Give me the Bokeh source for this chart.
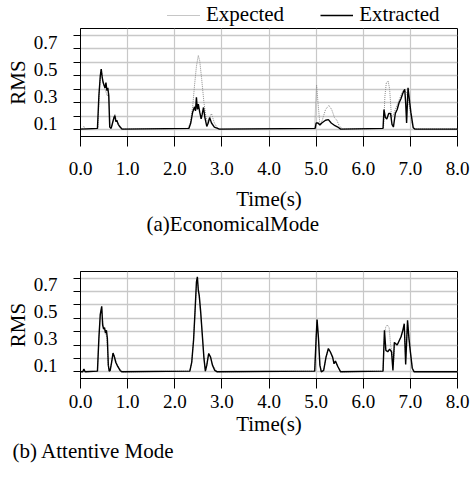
from bokeh.plotting import figure
from bokeh.models import (Range1d, FixedTicker, Title, Legend, LegendItem,
                          PrintfTickFormatter)
from bokeh.layouts import column
from bokeh.embed import file_html
from bokeh.resources import INLINE

FONT = "Liberation Serif"

# ---------------- data ----------------
x_ticks = [0, 1, 2, 3, 4, 5, 6, 7, 8]
y_label_ticks = [0.1, 0.3, 0.5, 0.7]
y_minor_ticks = [0.05, 0.15, 0.25, 0.35, 0.45, 0.55, 0.65, 0.75]

# (a) Economical mode
eco_exp_t = [0.0, 0.05, 0.07, 0.10, 0.37, 0.40, 0.44, 0.47, 0.50, 0.54, 0.57, 0.60, 0.63,
             0.66, 0.70, 0.73, 0.76, 0.80, 0.88, 2.28, 2.33, 2.38, 2.42, 2.46, 2.50, 2.53,
             2.57, 2.62, 2.66, 2.70, 2.74, 2.78, 2.84, 2.92, 4.97, 4.99, 5.01, 5.04, 5.08,
             5.13, 5.20, 5.27, 5.33, 5.39, 5.44, 5.49, 5.56, 6.43, 6.46, 6.49, 6.53, 6.56,
             6.60, 6.64, 6.68, 6.76, 6.84, 6.92, 6.98, 7.03, 7.07, 8.0]
eco_exp_v = [0.055, 0.06, 0.075, 0.055, 0.06, 0.35, 0.50, 0.42, 0.38, 0.33, 0.30, 0.32, 0.08,
             0.07, 0.13, 0.165, 0.12, 0.10, 0.055, 0.06, 0.10, 0.22, 0.38, 0.52, 0.60, 0.56,
             0.43, 0.25, 0.15, 0.10, 0.14, 0.17, 0.10, 0.055, 0.06, 0.25, 0.38, 0.25, 0.09,
             0.12, 0.20, 0.23, 0.20, 0.14, 0.12, 0.08, 0.055, 0.06, 0.30, 0.40, 0.41, 0.35,
             0.14, 0.16, 0.20, 0.27, 0.34, 0.33, 0.22, 0.10, 0.055, 0.055]

eco_ext_t = [0.0, 0.36, 0.39, 0.42, 0.44, 0.46, 0.48, 0.50, 0.52, 0.54, 0.56, 0.58, 0.60,
             0.62, 0.65, 0.68, 0.71, 0.73, 0.75, 0.77, 0.80, 0.84, 0.88, 2.30, 2.34, 2.38,
             2.42, 2.44, 2.46, 2.48, 2.50, 2.53, 2.56, 2.58, 2.61, 2.64, 2.68, 2.71, 2.74,
             2.78, 2.84, 2.95, 4.98, 5.00, 5.04, 5.08, 5.12, 5.20, 5.26, 5.32, 5.40, 5.46,
             5.52, 6.42, 6.44, 6.47, 6.50, 6.54, 6.58, 6.61, 6.64, 6.68, 6.72, 6.76, 6.80,
             6.84, 6.88, 6.90, 6.92, 6.95, 6.97, 7.01, 7.06, 7.10, 8.0]
eco_ext_v = [0.055, 0.06, 0.30, 0.45, 0.50, 0.44, 0.40, 0.38, 0.36, 0.40, 0.34, 0.36, 0.30,
             0.07, 0.06, 0.10, 0.14, 0.155, 0.11, 0.12, 0.09, 0.07, 0.055, 0.06, 0.10, 0.18,
             0.22, 0.19, 0.29, 0.20, 0.24, 0.18, 0.13, 0.16, 0.215, 0.14, 0.075, 0.10, 0.14,
             0.10, 0.07, 0.055, 0.06, 0.10, 0.10, 0.085, 0.10, 0.12, 0.125, 0.10, 0.08, 0.07,
             0.055, 0.06, 0.20, 0.14, 0.13, 0.17, 0.17, 0.09, 0.07, 0.17, 0.20, 0.25, 0.28,
             0.32, 0.35, 0.25, 0.10, 0.36, 0.30, 0.18, 0.065, 0.055, 0.055]

# (b) Attentive mode
att_exp_t = [0.0, 0.05, 0.07, 0.10, 0.36, 0.39, 0.42, 0.45, 0.48, 0.52, 0.56, 0.59, 0.61,
             0.63, 0.66, 0.69, 0.72, 0.76, 0.80, 0.88, 2.32, 2.36, 2.40, 2.44, 2.47, 2.50,
             2.54, 2.58, 2.62, 2.65, 2.68, 2.72, 2.76, 2.80, 2.90, 4.97, 5.00, 5.02, 5.05,
             5.08, 5.11, 5.16, 5.21, 5.26, 5.30, 5.35, 5.38, 5.41, 5.46, 5.52, 6.42, 6.45,
             6.48, 6.51, 6.55, 6.58, 6.61, 6.64, 6.67, 6.72, 6.76, 6.80, 6.84, 6.87, 6.90,
             6.94, 6.97, 7.00, 7.04, 7.08, 8.0]
att_exp_v = [0.05, 0.055, 0.075, 0.05, 0.055, 0.30, 0.48, 0.53, 0.40, 0.36, 0.30, 0.10, 0.055,
             0.06, 0.12, 0.19, 0.17, 0.12, 0.09, 0.05, 0.055, 0.12, 0.30, 0.55, 0.74, 0.68,
             0.52, 0.35, 0.15, 0.055, 0.10, 0.19, 0.16, 0.10, 0.05, 0.055, 0.30, 0.44, 0.30,
             0.10, 0.05, 0.06, 0.16, 0.22, 0.20, 0.16, 0.12, 0.13, 0.09, 0.05, 0.055, 0.33,
             0.39, 0.40, 0.38, 0.25, 0.20, 0.10, 0.26, 0.25, 0.28, 0.31, 0.36, 0.39, 0.15,
             0.42, 0.30, 0.20, 0.08, 0.05, 0.05]

att_ext_t = [0.0, 0.05, 0.07, 0.10, 0.36, 0.39, 0.42, 0.45, 0.47, 0.49, 0.51, 0.53, 0.55,
             0.57, 0.59, 0.61, 0.63, 0.66, 0.69, 0.72, 0.75, 0.79, 0.84, 0.88, 2.32, 2.36,
             2.40, 2.43, 2.46, 2.48, 2.50, 2.52, 2.55, 2.58, 2.62, 2.65, 2.68, 2.72, 2.76,
             2.80, 2.85, 2.90, 4.97, 5.00, 5.02, 5.05, 5.08, 5.11, 5.16, 5.21, 5.26, 5.30,
             5.35, 5.38, 5.41, 5.46, 5.52, 6.42, 6.45, 6.48, 6.52, 6.56, 6.60, 6.63, 6.66,
             6.69, 6.72, 6.76, 6.80, 6.84, 6.87, 6.90, 6.94, 6.97, 7.00, 7.04, 7.08, 8.0]
att_ext_v = [0.05, 0.05, 0.07, 0.05, 0.055, 0.30, 0.48, 0.54, 0.40, 0.37, 0.38, 0.34, 0.36,
             0.30, 0.10, 0.055, 0.06, 0.12, 0.19, 0.16, 0.12, 0.09, 0.06, 0.05, 0.055, 0.12,
             0.29, 0.50, 0.72, 0.76, 0.66, 0.62, 0.50, 0.35, 0.15, 0.055, 0.10, 0.187, 0.16,
             0.10, 0.06, 0.05, 0.055, 0.30, 0.44, 0.30, 0.10, 0.05, 0.06, 0.16, 0.224, 0.20,
             0.16, 0.11, 0.13, 0.09, 0.05, 0.055, 0.36, 0.21, 0.20, 0.22, 0.20, 0.06, 0.27,
             0.26, 0.25, 0.28, 0.31, 0.36, 0.41, 0.105, 0.435, 0.30, 0.20, 0.077, 0.05, 0.05]

series_names = ["Expected", "Extracted"]
x_axis_title = "Time(s)"
y_axis_title = "RMS"
captions = ["(a)EconomicalMode", "(b) Attentive Mode"]

assert len(eco_exp_t) == len(eco_exp_v)
assert len(eco_ext_t) == len(eco_ext_v)
assert len(att_exp_t) == len(att_exp_v)
assert len(att_ext_t) == len(att_ext_v)

GRID = "#c8c8c8"
EXP_STYLE = dict(line_color="#8c8c8c", line_width=1, line_dash="1 1")
EXT_STYLE = dict(line_color="black", line_width=1.4)


def make_fig(height, top, bottom, exp_t, exp_v, ext_t, ext_v, tick_standoff,
             label_standoff, caption, cap_offset, cap_standoff):
    p = figure(width=472, height=height, output_backend="svg", toolbar_location=None,
               x_range=Range1d(0, 8), y_range=Range1d(0, 0.8),
               min_border_left=80, min_border_right=15,
               min_border_top=top, min_border_bottom=bottom)
    p.outline_line_color = "black"
    p.outline_line_width = 1
    p.background_fill_color = "white"
    p.border_fill_color = "white"

    xa = p.xaxis[0]
    xa.ticker = FixedTicker(ticks=x_ticks, minor_ticks=[])
    xa.formatter = PrintfTickFormatter(format="%.1f")
    xa.major_tick_out = 10
    xa.major_tick_in = 0
    xa.minor_tick_out = 0
    xa.axis_line_color = "black"
    xa.major_tick_line_color = "black"
    xa.major_label_text_font = FONT
    xa.major_label_text_font_size = "19px"
    xa.major_label_text_color = "black"
    xa.major_label_standoff = tick_standoff
    xa.axis_label = x_axis_title
    xa.axis_label_text_font = FONT
    xa.axis_label_text_font_size = "21px"
    xa.axis_label_text_font_style = "normal"
    xa.axis_label_text_color = "black"
    xa.axis_label_standoff = label_standoff

    ya = p.yaxis[0]
    ya.ticker = FixedTicker(ticks=y_label_ticks, minor_ticks=y_minor_ticks)
    ya.major_tick_out = 0
    ya.major_tick_in = 0
    ya.minor_tick_out = 7
    ya.minor_tick_in = 0
    ya.minor_tick_line_color = "black"
    ya.axis_line_color = "black"
    ya.major_label_text_font = FONT
    ya.major_label_text_font_size = "19px"
    ya.major_label_text_color = "black"
    ya.major_label_standoff = 16
    ya.axis_label = y_axis_title
    ya.axis_label_text_font = FONT
    ya.axis_label_text_font_size = "21px"
    ya.axis_label_text_font_style = "normal"
    ya.axis_label_text_color = "black"
    ya.axis_label_standoff = 1

    p.xgrid.ticker = FixedTicker(ticks=x_ticks)
    p.xgrid.grid_line_color = GRID
    p.xgrid.grid_line_width = 1.2
    p.ygrid.grid_line_color = None
    p.ygrid.minor_grid_line_color = GRID
    p.ygrid.minor_grid_line_width = 1.6

    p.line(exp_t, exp_v, **EXP_STYLE)
    p.line(ext_t, ext_v, **EXT_STYLE)

    p.add_layout(Title(text=caption, align="left", offset=cap_offset, text_font=FONT,
                       text_font_size="21px", text_font_style="normal",
                       text_color="black", standoff=cap_standoff), "below")
    return p


# legend strip on top (its sample lines lie outside the strip's visible range;
# its frame is aligned with the charts' frames by the column layout)
pl = figure(width=472, height=27, output_backend="svg", toolbar_location=None,
            x_range=Range1d(0, 1), y_range=Range1d(0, 1),
            min_border_left=0, min_border_right=0, min_border_top=0, min_border_bottom=0,
            x_axis_type=None, y_axis_type=None)
pl.outline_line_color = None
pl.xgrid.visible = False
pl.ygrid.visible = False
r_exp = pl.line(x=[5, 6], y=[5, 5], **EXP_STYLE)
r_ext = pl.line(x=[5, 6], y=[5, 5], **EXT_STYLE)
lg = Legend(items=[LegendItem(label=series_names[0], renderers=[r_exp]),
                   LegendItem(label=series_names[1], renderers=[r_ext])],
            orientation="horizontal", location=(87, 0),
            glyph_width=33, glyph_height=14, label_standoff=6, spacing=36,
            padding=0, margin=0, border_line_color=None,
            background_fill_alpha=0, label_text_font=FONT,
            label_text_font_size="21px", label_text_color="black", label_height=20)
pl.add_layout(lg)

p1 = make_fig(213, 1, 104, eco_exp_t, eco_exp_v, eco_ext_t, eco_ext_v, 15, 9,
              captions[0], 66, -7)
p2 = make_fig(252, 31, 114, att_exp_t, att_exp_v, att_ext_t, att_ext_v, 6, 1,
              captions[1], -68, -4)

layout = column(pl, p1, p2, spacing=0)
open("out.html", "w").write(file_html(layout, INLINE))
